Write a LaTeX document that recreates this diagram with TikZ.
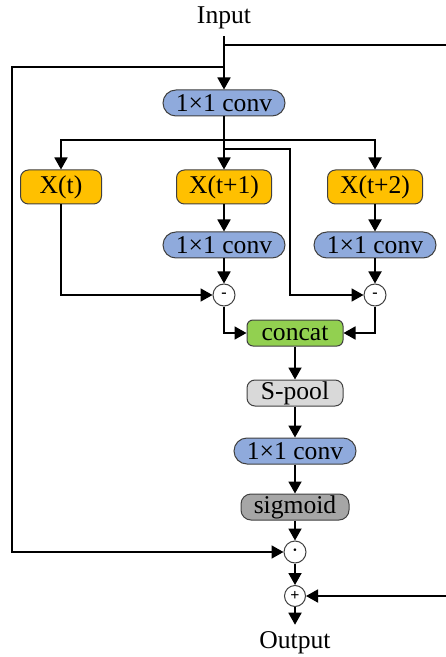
\documentclass[tikz,border=0pt]{standalone}
\usepackage{fontspec}
\setmainfont{Liberation Serif}
\usetikzlibrary{arrows.meta, positioning, calc}
\definecolor{convblue}{HTML}{8FAADC}
\definecolor{xgold}{HTML}{FFC000}
\definecolor{catgreen}{HTML}{92D050}
\definecolor{poolgray}{HTML}{D9D9D9}
\definecolor{siggray}{HTML}{A6A6A6}
\definecolor{edgegray}{HTML}{404040}

\begin{document}
\begin{tikzpicture}[
  x=0.5pt, y=-0.5pt,
  >={Triangle[length=6pt, width=6.5pt]},
  every node/.style={font=\fontsize{12.8}{15}\selectfont},
  opbox/.style={
    draw=edgegray, line width=0.5pt, fill=#1, rounded corners=6.5pt,
    minimum width=61pt, minimum height=13pt, inner sep=0pt
  },
  xbox/.style={
    draw=edgegray, line width=0.5pt, fill=xgold, rounded corners=4pt,
    minimum height=17pt, inner sep=0pt
  },
  opcirc/.style={
    draw=edgegray, line width=0.5pt, fill=white, circle,
    minimum size=11pt, inner sep=0pt, font=\fontsize{8}{9}\selectfont\bfseries
  },
  arr/.style={->, line width=0.9pt, black},
  wire/.style={line width=0.9pt, black},
]

\useasboundingbox (0,0) rectangle (445,657);

% ============================================================
% Input / output labels
% ============================================================
\node (input) at (224,18) {Input};
\node (output) at (295,643) {Output};

% ============================================================
% Top part
% ============================================================
\node[opbox=convblue] (conv1) at (224,103) {1×1 conv};

\node[xbox, minimum width=40.5pt] (xt)  at (61,187)  {X(t)};
\node[xbox, minimum width=47.5pt] (xt1) at (224,187) {X(t+1)};
\node[xbox, minimum width=47.5pt] (xt2) at (375,187) {X(t+2)};

\node[opbox=convblue] (conv2) at (224,245) {1×1 conv};
\node[opbox=convblue] (conv3) at (375,245) {1×1 conv};

\node[opcirc] (minus1) at (224,295) {-};
\node[opcirc] (minus2) at (375,295) {-};

% ============================================================
% Main column
% ============================================================
\node[opbox=catgreen, minimum width=48pt, rounded corners=3pt] (concat) at (295,333) {concat};
\node[opbox=poolgray, minimum width=48pt, rounded corners=4pt] (spool) at (295,393) {S-pool};
\node[opbox=convblue] (conv4) at (295,451) {1×1 conv};
\node[opbox=siggray, minimum width=54pt, rounded corners=5pt] (sig) at (295,507) {sigmoid};

\node[opcirc] (dot) at (295,552) {·};
\node[opcirc, minimum size=10.5pt] (plus) at (295,596) {+};

% ============================================================
% Branch points
% ============================================================
\coordinate (tapR) at (224,45);
\coordinate (tapL) at (224,67);
\coordinate (br) at (224,140);
\coordinate (tapM) at (224,149);

% ============================================================
% Connectors
% ============================================================
\draw[arr] (input.south) -- (conv1.north);
\draw[wire] (conv1.south) -- (br);
\draw[arr] (br) -| (xt.north);
\draw[arr] (br) -| (xt2.north);
\draw[arr] (br) -- (xt1.north);

\draw[arr] (xt1.south) -- (conv2.north);
\draw[arr] (xt2.south) -- (conv3.north);
\draw[arr] (conv2.south) -- (minus1.north);
\draw[arr] (conv3.south) -- (minus2.north);

\draw[arr] (xt.south) |- (minus1.west);
\draw[arr] (tapM) -- (290,149) |- (minus2.west);

\draw[arr] (minus1.south) |- (concat.west);
\draw[arr] (minus2.south) |- (concat.east);

\draw[arr] (concat.south) -- (spool.north);
\draw[arr] (spool.south) -- (conv4.north);
\draw[arr] (conv4.south) -- (sig.north);
\draw[arr] (sig.south) -- (dot.north);
\draw[arr] (dot.south) -- (plus.north);
\draw[arr] (plus.south) -- (output.north);

% --- skip paths ---
\draw[arr] (tapL) -- (12,67) |- (dot.west);
\draw[arr] (tapR) -- (448,45) |- (plus.east);

\end{tikzpicture}
\end{document}
